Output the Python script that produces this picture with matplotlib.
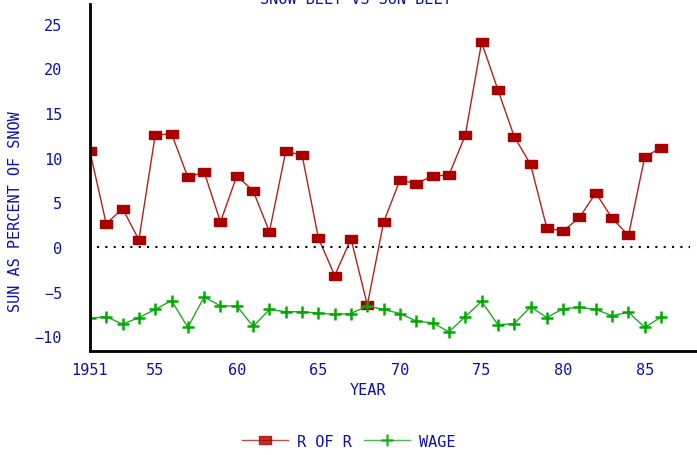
import matplotlib.pyplot as plt
import numpy as np

plt.rcParams['font.family'] = ['DejaVu Sans Mono']

years = list(range(1951, 1987))
r_of_r = [10.7, 2.6, 4.3, 0.8, 12.5, 12.7, 7.8, 8.4, 2.8, 7.95,
          6.3, 1.7, 10.7, 10.3, 1.0, -3.2, 0.9, -6.5, 2.8, 7.5,
          7.1, 7.95, 8.05, 12.5, 22.9, 17.6, 12.35, 9.25, 2.1, 1.8,
          3.3, 6.05, 3.2, 1.3, 10.1, 11.1]
wage = [-8.0, -7.8, -8.65, -7.9, -7.0, -6.0, -9.0, -5.6, -6.6, -6.6,
        -8.9, -7.0, -7.25, -7.25, -7.4, -7.55, -7.45, -6.6, -7.0, -7.45,
        -8.3, -8.5, -9.5, -7.8, -6.1, -8.7, -8.6, -6.7, -7.9, -6.9,
        -6.75, -7.0, -7.7, -7.3, -9.0, -7.85]
xticks = [1951, 1955, 1960, 1965, 1970, 1975, 1980, 1985]
xlabels = ["1951", "55", "60", "65", "70", "75", "80", "85"]
yticks = [-10, -5, 0, 5, 10, 15, 20, 25]

blue = "#1010b0"
red = "#aa0000"
green = "#00aa00"

# wide rectangle marker like the original
rect = [(-1.35, -1), (1.35, -1), (1.35, 1), (-1.35, 1), (-1.35, -1)]

fig = plt.figure(figsize=(6.97, 4.56), dpi=100)
ax = fig.add_axes([0.129, 0.228, 0.871, 0.761])

ax.plot(years, r_of_r, color="#b22222", lw=1, marker=rect, markersize=8,
        markerfacecolor=red, markeredgecolor=red, label="R OF R")
ax.plot(years, wage, color="#22aa22", lw=1, marker="+", markersize=8,
        markeredgewidth=1.8, markeredgecolor=green, label="WAGE")
ax.hlines(0, 1951.45, 1987.8, colors="black", linestyles=(0, (1, 3)), lw=1.5)

ax.set_xlim(1951, 1988.2)
ax.set_ylim(-11.65, 27.2)
ax.set_xticks(xticks)
ax.set_xticklabels(xlabels)
ax.set_yticks(yticks)
ax.tick_params(length=0, labelsize=11, labelcolor=blue, pad=8)
ax.tick_params(axis="y", pad=20)
for s in ["top", "right"]:
    ax.spines[s].set_visible(False)
for s in ["left", "bottom"]:
    ax.spines[s].set_linewidth(2)

fig.text(0.528, 0.143, "YEAR", color=blue, fontsize=11, ha="center", va="center")
fig.text(0.022, 0.535, "SUN AS PERCENT OF SNOW", color=blue, fontsize=11,
         rotation=90, ha="center", va="center")
fig.text(0.51, 1.0, "SNOW BELT VS SUN BELT", color=blue, fontsize=11,
         ha="center", va="center")

leg = fig.legend(loc="center", bbox_to_anchor=(0.5, 0.03), ncol=2, frameon=False,
                 fontsize=11, handlelength=3, columnspacing=0.8, handletextpad=0.6)
for t in leg.get_texts():
    t.set_color(blue)
for h in leg.legend_handles:
    h.set_alpha(0.8)

plt.savefig("out.png", dpi=100)
